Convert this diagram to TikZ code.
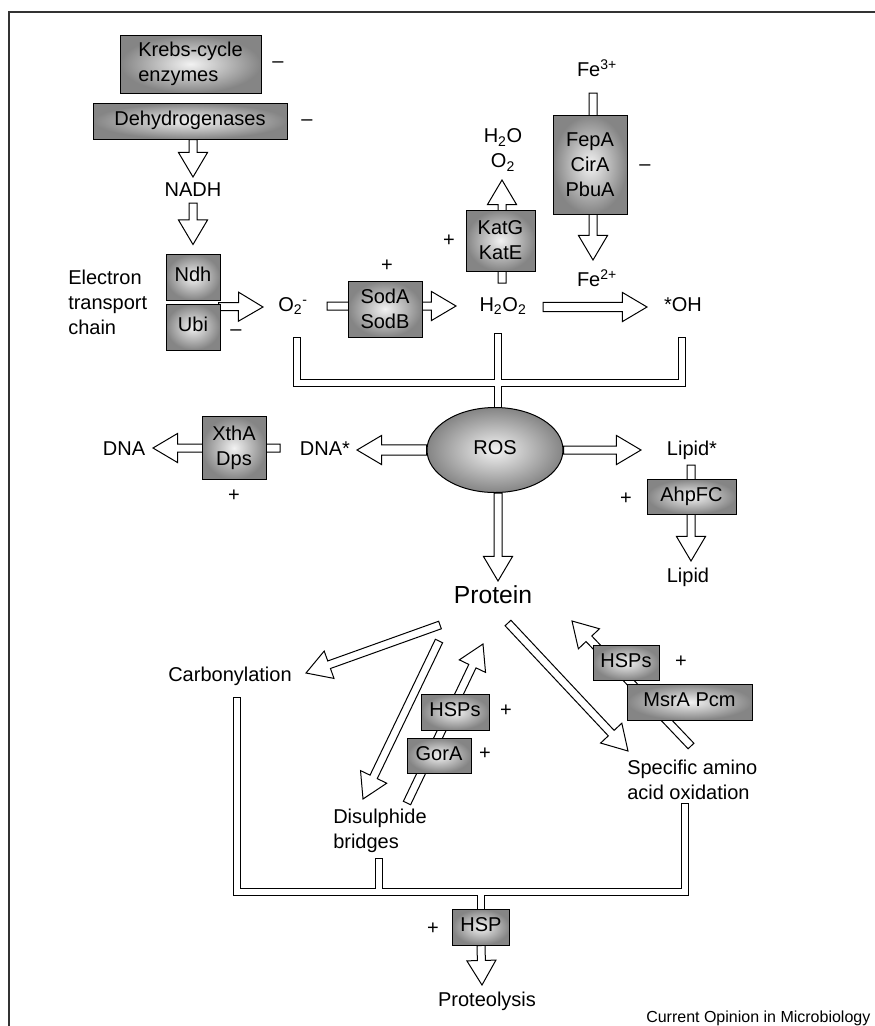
\documentclass[tikz,border=0pt]{standalone}
\usepackage{fontspec}
\setmainfont{Liberation Sans}
\usetikzlibrary{calc,backgrounds,positioning,shapes.geometric}
\tikzset{
  enz/.style={draw,line width=0.75pt,inner color=black!5,outer color=black!48,inner sep=0pt,align=center},
  wh/.style 2 args={minimum width=#1*0.75pt,minimum height=#2*0.75pt},
  one/.style={text height=0.72em,text depth=0pt},
  lbl/.style={inner sep=0pt},
  fat/.style={draw,fill=white,line width=0.75pt,line join=miter}
}
\newcommand{\fatarrow}[3][3pt]{%
  \coordinate (fa-s) at (#2);
  \coordinate (fa-t) at (#3);
  \coordinate (fa-c) at ($(fa-t)!18.4pt!(fa-s)$);
  \draw[fat] ($(fa-s)!#1!90:(fa-t)$) -- ($(fa-c)!#1!90:(fa-t)$) -- ($(fa-c)!10.9pt!90:(fa-t)$) -- (fa-t)
    -- ($(fa-c)!10.9pt!-90:(fa-t)$) -- ($(fa-c)!#1!-90:(fa-t)$) -- ($(fa-s)!#1!-90:(fa-t)$) -- cycle;
}
\begin{document}
\begin{tikzpicture}[x=0.75pt,y=-0.75pt,font=\fontsize{15}{18.75}\selectfont]
  \useasboundingbox (0,0) rectangle (875,1026);
  \draw[line width=1.1pt,black!80] (9,1026) -- (9,12) -- (875,12);

  % sources of ROS
  \node[enz,wh={141}{58},align=left] (krebs) at (190.5,64) {Krebs-cycle\\enzymes};
  \node[lbl,one] (mkrebs) at (278,63) {–};
  \node[enz,wh={194}{36},one] (dehyd) at (190,121) {Dehydrogenases};
  \node[lbl,one] (mdehyd) at (307,121) {–};
  \node[lbl,one] (nadh) at (193,192) {NADH};
  \node[enz,wh={54}{46},one] (ndh) at (193,277) {Ndh};
  \node[enz,wh={54}{46},one] (ubi) at (193,327) {Ubi};
  \node[lbl,align=left,anchor=west] (etc) at (68,302) {Electron\\transport\\chain};
  \node[lbl,one] (mubi) at (236,331) {–};
  \node[lbl,one] (o2) at (293,307) {O\textsubscript{2}\textsuperscript{-}};
  \node[enz,wh={74}{56}] (sod) at (385,309) {SodA\\SodB};
  \node[lbl,one] (psod) at (387,267) {+};
  \node[lbl,one] (h2o2) at (503,307) {H\textsubscript{2}O\textsubscript{2}};
  \node[enz,wh={69}{61}] (kat) at (500.5,240.5) {KatG\\KatE};
  \node[lbl,one] (pkat) at (449,242) {+};
  \node[lbl,align=center] (h2o) at (503,150) {H\textsubscript{2}O\\O\textsubscript{2}};
  \node[lbl,one] (fe3) at (597,72) {Fe\textsuperscript{3+}};
  \node[enz,wh={74}{99}] (fep) at (590,164.5) {FepA\\CirA\\PbuA};
  \node[lbl,one] (mfep) at (645,166) {–};
  \node[lbl,one] (fe2) at (597,282) {Fe\textsuperscript{2+}};
  \node[lbl,one] (oh) at (683,307) {*OH};

  % ROS and its targets
  \node[ellipse,draw,line width=0.75pt,inner color=black!5,outer color=black!48,wh={136}{85},one] (ros) at (495,450) {ROS};
  \node[lbl,one] (dnas) at (325,451) {DNA*};
  \node[enz,wh={64}{63}] (xth) at (234,448) {XthA\\Dps};
  \node[lbl,one] (pxth) at (234,497) {+};
  \node[lbl,one] (dna) at (124,451) {DNA};
  \node[lbl,one] (lips) at (692,451) {Lipid*};
  \node[enz,wh={89}{35},one] (ahp) at (691.5,496.5) {AhpFC};
  \node[lbl,one] (pahp) at (626,500) {+};
  \node[lbl,one] (lip) at (688,578) {Lipid};
  \node[lbl,one,font=\fontsize{18.5}{22}\selectfont] (prot) at (493,599) {Protein};

  % protein damage and repair
  \node[lbl,one] (carb) at (230,677) {Carbonylation};
  \node[lbl,align=left,anchor=west] (dis) at (333,831) {Disulphide\\bridges};
  \node[enz,wh={68}{36},one] (hspa) at (455,712) {HSPs};
  \node[lbl,one] (phspa) at (506,712) {+};
  \node[enz,wh={64}{35},one] (gor) at (439,755.5) {GorA};
  \node[lbl,one] (pgor) at (485,755) {+};
  \node[lbl,align=left,anchor=west] (spec) at (627,780) {Specific amino\\acid oxidation};
  \node[enz,wh={66}{35},one] (hspb) at (626,662.5) {HSPs};
  \node[lbl,one] (phspb) at (681,663) {+};
  \node[enz,wh={125}{36},one] (msr) at (689.5,702) {MsrA Pcm};
  \node[enz,wh={57}{36},one] (hsp) at (481,927) {HSP};
  \node[lbl,one] (phsp) at (433,930) {+};
  \node[lbl,one] (proteo) at (487,1002) {Proteolysis};
  \node[lbl,anchor=west,font=\fontsize{12}{14}\selectfont] (credit) at (646,1018) {Current Opinion in Microbiology};

  \begin{scope}[on background layer]
    \coordinate (o2end) at ($(o2)+(4,34)$);
    \coordinate (ohend) at ($(oh)+(-1,34)$);
    \coordinate (h2o2end) at ($(h2o2)+(-5,30)$);
    \coordinate (carbend) at ($(carb)+(7,24)$);
    \coordinate (specend) at ($(spec.west)+(58,27)$);
    \coordinate (disend) at ($(dis.west)+(46,31)$);
    \coordinate (bar) at ($(hsp.north)+(0,-16.5)$);
    \foreach \w/\c in {6.3pt/black,4.8pt/white}{
      \draw[line width=\w,draw=\c,line cap=rect,line join=miter]
        (o2end) |- ($(ohend)+(0,42)$) -- (ohend)
        (h2o2end) -- (h2o2end |- ros.north)
        (carbend) |- (bar) -| (specend)
        (disend) -- (disend |- bar)
        (bar) -- (hsp.north);
    }
    \fatarrow{dehyd.south -| nadh}{$(nadh)+(0,-15)$}
    \fatarrow{$(nadh)+(0,11)$}{$(ndh.north)+(0,-9)$}
    \fatarrow{$(ubi.north east)+(-2,3)$}{$(o2)+(-30,0)$}
    \fatarrow{$(o2)+(34,-1)$}{$(h2o2)+(-47,-1)$}
    \fatarrow{$(h2o2)+(-1,-24)$}{$(h2o)+(-1,30)$}
    \fatarrow{$(fe3)+(-4,21)$}{$(fe2)+(-4,-22)$}
    \fatarrow[3.4pt]{$(h2o2)+(40,0)$}{$(oh)+(-36,0)$}
    \fatarrow[3.8pt]{ros.west}{$(dnas)+(32,-1)$}
    \fatarrow{ros.east}{$(lips)+(-51,-1)$}
    \fatarrow{$(dnas)+(-45,-3)$}{$(dna)+(29,-3)$}
    \fatarrow{$(lips)+(-1,14)$}{$(lip)+(3,-17)$}
    \fatarrow{$(ros.south)+(3,0)$}{$(prot)+(5,-18)$}
    \fatarrow{$(prot)+(-53,26)$}{$(carb)+(76,-4)$}
    \fatarrow{$(prot)+(-54,42)$}{$(dis.west)+(30,-32)$}
    \fatarrow{$(dis.west)+(74,-28)$}{$(prot)+(-10,45)$}
    \fatarrow{$(prot)+(15,24)$}{$(spec.west)+(1,-29)$}
    \fatarrow{$(spec.west)+(64,-34)$}{$(prot)+(79,22)$}
    \fatarrow{hsp.south}{$(proteo)+(-5,-17)$}
  \end{scope}
\end{tikzpicture}
\end{document}
